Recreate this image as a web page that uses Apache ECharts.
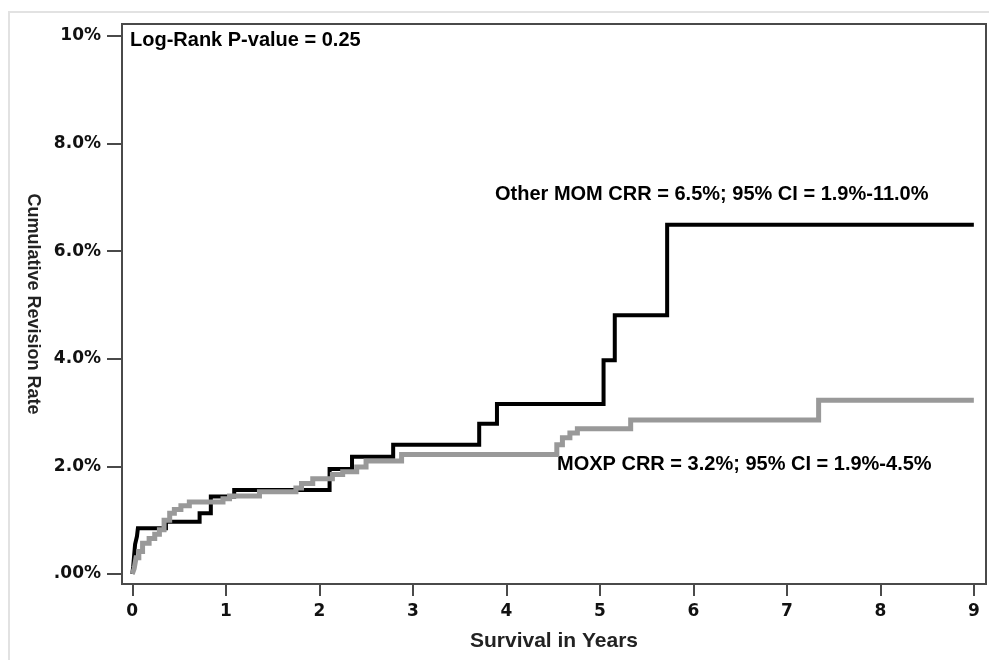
<!DOCTYPE html>
<html>
<head>
<meta charset="utf-8">
<script src="https://cdn.jsdelivr.net/npm/echarts@6/dist/echarts.min.js"></script>
<style>
  html, body { margin: 0; padding: 0; background: #fff; }
  #chart { width: 989px; height: 660px; }
</style>
</head>
<body>
<div id="chart"></div>
<script>
// Other MOM (black) Kaplan-Meier cumulative revision rate
const otherYears = [0, 0.01, 0.02, 0.03, 0.05, 0.06, 0.36, 0.72, 0.84, 1.09, 2.11, 2.35, 2.79, 3.71, 3.90, 5.04, 5.16, 5.72, 9.0];
const otherRate  = [0, 0.14, 0.35, 0.55, 0.70, 0.85, 0.97, 1.13, 1.44, 1.56, 1.95, 2.18, 2.40, 2.79, 3.16, 3.97, 4.81, 6.49, 6.49];

// MOXP (gray)
const moxpYears = [0, 0.02, 0.04, 0.07, 0.11, 0.18, 0.24, 0.29, 0.34, 0.40, 0.45, 0.52, 0.61, 0.97, 1.04, 1.36, 1.75, 1.81, 1.93, 2.14, 2.25, 2.40, 2.50, 2.88, 4.54, 4.60, 4.68, 4.76, 5.33, 7.34, 9.0];
const moxpRate  = [0, 0.10, 0.30, 0.42, 0.57, 0.66, 0.74, 0.82, 1.00, 1.13, 1.20, 1.27, 1.34, 1.40, 1.45, 1.53, 1.60, 1.68, 1.77, 1.85, 1.90, 1.99, 2.10, 2.22, 2.40, 2.53, 2.62, 2.70, 2.86, 3.23, 3.23];

// Tick labels
const xTicks = [0, 1, 2, 3, 4, 5, 6, 7, 8, 9];
const yTicks = [0, 2, 4, 6, 8, 10];
const yTickLabels = ['.00%', '2.0%', '4.0%', '6.0%', '8.0%', '10%'];

const annotations = {
  pvalue: 'Log-Rank P-value = 0.25',
  other: 'Other MOM CRR = 6.5%; 95% CI = 1.9%-11.0%',
  moxp: 'MOXP CRR = 3.2%; 95% CI = 1.9%-4.5%'
};

const otherData = otherYears.map((t, i) => [t, otherRate[i]]);
const moxpData = moxpYears.map((t, i) => [t, moxpRate[i]]);

const tickFont = { fontFamily: 'DejaVu Sans', fontWeight: 'bold', fontSize: 17, color: '#111' };
const annFont = { fontFamily: 'Liberation Sans, Arial, sans-serif', fontWeight: 'bold', fontSize: 20, fill: '#000' };

const chart = echarts.init(document.getElementById('chart'), null, { renderer: 'canvas' });
chart.setOption({
  animation: false,
  backgroundColor: '#fff',
  grid: {
    left: 122, top: 24, right: 3, bottom: 76,
    show: true, borderColor: '#4a4a4a', borderWidth: 2,
    outerBoundsMode: 'none'
  },
  xAxis: {
    type: 'value',
    min: -0.11, max: 9.13,
    splitLine: { show: false },
    axisLine: { show: true, onZero: false, lineStyle: { color: '#4a4a4a', width: 2 } },
    axisTick: { show: true, customValues: xTicks, length: 12, lineStyle: { color: '#4a4a4a', width: 2 } },
    axisLabel: Object.assign({ customValues: xTicks, margin: 19 }, tickFont),
    name: 'Survival in Years',
    nameLocation: 'middle',
    nameGap: 47,
    nameTextStyle: { fontFamily: 'Liberation Sans, Arial, sans-serif', fontWeight: 'bold', fontSize: 21, color: '#222' }
  },
  yAxis: {
    type: 'value',
    min: -0.186, max: 10.22,
    splitLine: { show: false },
    axisLine: { show: true, onZero: false, lineStyle: { color: '#4a4a4a', width: 2 } },
    axisTick: { show: true, customValues: yTicks, length: 15, lineStyle: { color: '#4a4a4a', width: 2 } },
    axisLabel: Object.assign({
      customValues: yTicks, margin: 21,
      formatter: (v) => { const i = yTicks.indexOf(Math.round(v)); return i >= 0 ? yTickLabels[i] : ''; }
    }, tickFont),
    name: 'Cumulative Revision Rate',
    nameLocation: 'middle',
    nameGap: 80,
    nameRotate: -90,
    nameTextStyle: { fontFamily: 'Liberation Sans, Arial, sans-serif', fontWeight: 'bold', fontSize: 18, color: '#222' }
  },
  graphic: [
    { type: 'rect', silent: true, z: -10, shape: { x: 9, y: 12, width: 1000, height: 700 },
      style: { fill: 'none', stroke: '#e2e2e2', lineWidth: 2 } },
    { type: 'text', left: 130, top: 30, style: Object.assign({ text: annotations.pvalue }, annFont) },
    { type: 'text', left: 495, top: 184, style: Object.assign({ text: annotations.other }, annFont) },
    { type: 'text', left: 557, top: 454, style: Object.assign({ text: annotations.moxp }, annFont) }
  ],
  series: [
    {
      name: 'Other MOM', type: 'line', step: 'end', data: otherData,
      showSymbol: false, symbol: 'none',
      lineStyle: { color: '#000', width: 4, join: 'miter' }, z: 2
    },
    {
      name: 'MOXP', type: 'line', step: 'end', data: moxpData,
      showSymbol: false, symbol: 'none',
      lineStyle: { color: '#999', width: 5, join: 'miter' }, z: 3
    }
  ]
});
</script>
</body>
</html>
